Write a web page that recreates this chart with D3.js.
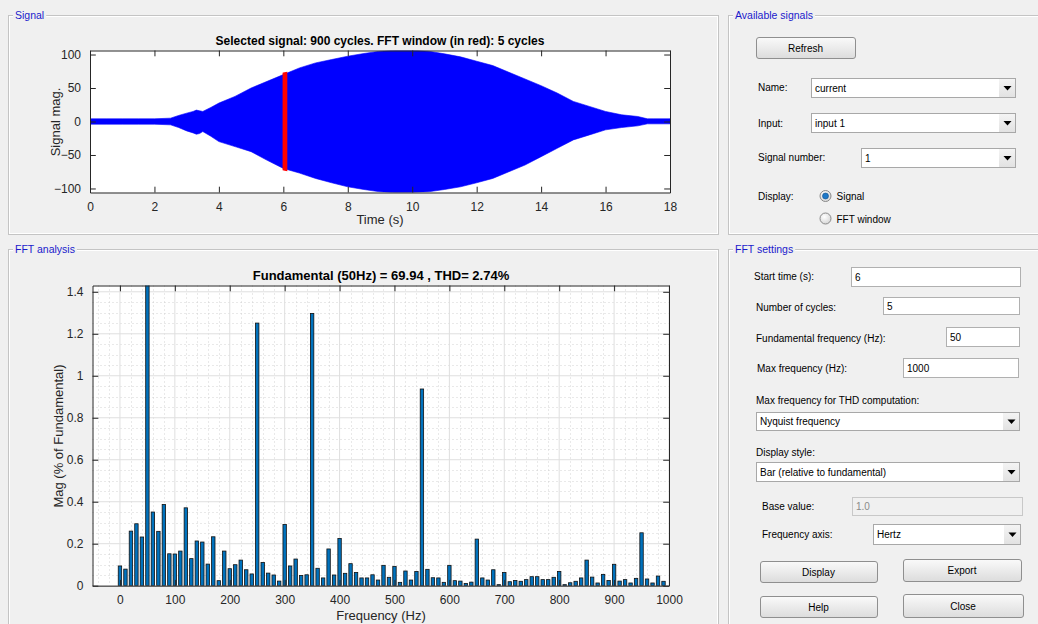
<!DOCTYPE html>
<html><head><meta charset="utf-8">
<script src="https://cdn.jsdelivr.net/npm/d3@7"></script>
<style>
body{margin:0;background:#f0f0f0;}
svg{display:block;font-family:"Liberation Sans",Arial,sans-serif;}
</style>
</head><body>
<svg id="c" width="1038" height="624"></svg>
<script>
// ---------------- DATA ----------------
// FFT harmonic spectrum (frequency in Hz, magnitude in % of fundamental)
const freqs = [0,10,20,30,40,50,60,70,80,90,100,110,120,130,140,150,160,170,180,190,
  200,210,220,230,240,250,260,270,280,290,300,310,320,330,340,350,360,370,380,390,
  400,410,420,430,440,450,460,470,480,490,500,510,520,530,540,550,560,570,580,590,
  600,610,620,630,640,650,660,670,680,690,700,710,720,730,740,750,760,770,780,790,
  800,810,820,830,840,850,860,870,880,890,900,910,920,930,940,950,960,970,980,990];
const magnitudes = [0.094,0.079,0.260,0.295,0.232,100,0.351,0.259,0.387,0.152,
  0.151,0.165,0.371,0.129,0.213,0.208,0.103,0.233,0.024,0.165,
  0.081,0.100,0.122,0.076,0.056,1.251,0.111,0.060,0.051,0.022,
  0.292,0.094,0.127,0.049,0.052,1.297,0.083,0.037,0.175,0.051,
  0.225,0.059,0.105,0.063,0.037,0.037,0.052,0.027,0.097,0.040,
  0.092,0.016,0.070,0.027,0.068,0.937,0.078,0.038,0.037,0.016,
  0.097,0.024,0.022,0.011,0.017,0.222,0.037,0.027,0.076,0.005,
  0.063,0.019,0.025,0.021,0.029,0.043,0.043,0.029,0.029,0.040,
  0.068,0.005,0.014,0.021,0.037,0.122,0.041,0.013,0.054,0.025,
  0.102,0.022,0.029,0.013,0.035,0.252,0.032,0.013,0.046,0.021];
const fftXTicks = [0,100,200,300,400,500,600,700,800,900,1000];
const fftYTicks = [0,0.2,0.4,0.6,0.8,1,1.2,1.4];

// Signal envelope (time in s, upper / lower extent of the waveform)
const sigTime  = [0,0.01,0.05,0.5,1,1.5,2,2.5,2.75,3,3.2,3.3,3.4,3.5,3.75,4,4.5,5,5.5,6,6.5,7,7.5,8,8.5,9,9.5,10,10.5,11,11.5,12,12.5,13,13.5,14,14.5,15,15.5,16,16.5,17,17.3,17.5,18];
const sigUpper = [20,4.5,4,4,4,4,4,5,9,12.5,15,17,16,15,21,27.5,37.5,50,60,70,80,87.5,92.5,97.5,101.5,105,106.5,106.5,105,101,96.5,90,83.5,73.5,63.5,53.5,42.5,30,22.5,15,10,7.5,4,4,4];
const sigLower = [-70,-4.5,-4,-4,-4,-4,-4,-5,-9,-14,-17,-19,-18,-15,-22,-30,-37.5,-45,-58,-70,-77,-85,-91.5,-97.5,-101.5,-105,-106.5,-106,-105,-101.5,-97.5,-91.5,-85,-75,-65,-52.5,-40,-27.5,-20,-12.5,-9,-6.5,-3.5,-3.5,-3.5];
// FFT window (red) envelope
const winTime  = [6.0,6.1];
const winUpper = [72,73];
const winLower = [-72,-73];
const sigXTicks = [0,2,4,6,8,10,12,14,16,18];
const sigYTicks = [-100,-50,0,50,100];

// ---------------- DRAW ----------------
const svg = d3.select("#c");
const AX = "#262626";
const defs = svg.append("defs");
const bg = defs.append("linearGradient").attr("id","btn").attr("x1",0).attr("y1",0).attr("x2",0).attr("y2",1);
bg.append("stop").attr("offset","0%").attr("stop-color","#fafafa");
bg.append("stop").attr("offset","100%").attr("stop-color","#dcdcdc");
const ag = defs.append("linearGradient").attr("id","arr").attr("x1",0).attr("y1",0).attr("x2",0).attr("y2",1);
ag.append("stop").attr("offset","0%").attr("stop-color","#f4f4f4");
ag.append("stop").attr("offset","100%").attr("stop-color","#e2e2e2");
const rg = defs.append("radialGradient").attr("id","rad").attr("cx","40%").attr("cy","35%").attr("r","70%");
rg.append("stop").attr("offset","0%").attr("stop-color","#ffffff");
rg.append("stop").attr("offset","100%").attr("stop-color","#d4d4d4");

// panels
function panel(x,y,w,h,title){
  const g = svg.append("g");
  g.append("rect").attr("x",x+0.5).attr("y",y+0.5).attr("width",w).attr("height",h)
    .attr("fill","none").attr("stroke","#c4c4c4");
  g.append("rect").attr("x",x+1.5).attr("y",y+1.5).attr("width",w-2).attr("height",h-2)
    .attr("fill","none").attr("stroke","#ffffff");
  const t = g.append("text").attr("x",x+7).attr("y",y+4).attr("font-size","10.5px")
    .attr("fill","#1a1acc").text(title);
  const bb = t.node().getBBox();
  g.insert("rect","text").attr("x",bb.x-2).attr("y",y-2).attr("width",bb.width+4).attr("height",6).attr("fill","#f0f0f0");
}
panel(8,15,710,219,"Signal");
panel(8,249,710,400,"FFT analysis");
panel(728,15,320,219,"Available signals");
panel(728,249,320,400,"FFT settings");

// ---------- Signal plot ----------
const sx = d3.scaleLinear().domain([0,18]).range([90,670]);
const sy = d3.scaleLinear().domain([-106,106]).range([192.5,50.5]);
const sg = svg.append("g");
sg.append("rect").attr("x",90).attr("y",50.5).attr("width",580).attr("height",142).attr("fill","#fff");
defs.append("clipPath").attr("id","sclip").append("rect").attr("x",90).attr("y",50.5).attr("width",580).attr("height",142);
const env = sigTime.map((t,i)=>({t,u:sigUpper[i],l:sigLower[i]}));
const area = d3.area().x(d=>sx(d.t)).y0(d=>sy(d.l)).y1(d=>sy(d.u));
sg.append("path").datum(env).attr("d",area).attr("fill","#0000ff").attr("stroke","#0000ff").attr("stroke-width",0.6).attr("clip-path","url(#sclip)");
const wenv = winTime.map((t,i)=>({t,u:winUpper[i],l:winLower[i]}));
sg.append("path").datum(wenv).attr("d",area).attr("fill","#ff0000").attr("stroke","#ff0000").attr("stroke-width",1.5);
// axes
const tl = 5.8;
sg.append("g").attr("transform","translate(0,192.5)").call(d3.axisBottom(sx).tickValues(sigXTicks).tickSizeInner(-tl).tickSizeOuter(0).tickPadding(10));
sg.append("g").attr("transform","translate(0,50.5)").call(d3.axisTop(sx).tickValues(sigXTicks).tickSizeInner(-tl).tickSizeOuter(0).tickFormat(""));
sg.append("g").attr("transform","translate(90,0)").call(d3.axisLeft(sy).tickValues(sigYTicks).tickSizeInner(-tl).tickSizeOuter(0).tickPadding(9));
sg.append("g").attr("transform","translate(670,0)").call(d3.axisRight(sy).tickValues(sigYTicks).tickSizeInner(-tl).tickSizeOuter(0).tickFormat(""));
sg.append("text").attr("x",380).attr("y",45).attr("text-anchor","middle").attr("font-size","12px").attr("font-weight","bold").attr("fill","#000")
  .text("Selected signal: 900 cycles. FFT window (in red): 5 cycles");
sg.append("text").attr("x",380).attr("y",224).attr("text-anchor","middle").attr("font-size","13px").attr("fill",AX).text("Time (s)");
sg.append("text").attr("transform","translate(60,122) rotate(-90)").attr("text-anchor","middle").attr("font-size","13px").attr("fill",AX).text("Signal mag.");

// ---------- FFT plot ----------
const fx = d3.scaleLinear().domain([-50,1000]).range([92.5,669]);
const fy = d3.scaleLinear().domain([0,1.43]).range([585.7,285.5]);
const fg = svg.append("g");
fg.append("rect").attr("x",92.5).attr("y",285.5).attr("width",576.5).attr("height",300.2).attr("fill","#fff");
defs.append("clipPath").attr("id","fclip").append("rect").attr("x",92.5).attr("y",285.5).attr("width",576.5).attr("height",300.2);
// minor grid
const minorX = d3.range(-40,1000,20).filter(v=>v%100!==0);
const minorY = d3.range(0.05,1.43,0.05).filter(v=>Math.abs(v/0.2-Math.round(v/0.2))>0.01);
fg.append("g").selectAll("line").data(minorX).join("line")
  .attr("x1",d=>Math.round(fx(d))+0.5).attr("x2",d=>Math.round(fx(d))+0.5).attr("y1",285.5).attr("y2",585.7)
  .attr("stroke","#c8c8c8").attr("stroke-width",0.8).attr("stroke-dasharray","1,3");
fg.append("g").selectAll("line").data(minorY).join("line")
  .attr("y1",d=>Math.round(fy(d))+0.5).attr("y2",d=>Math.round(fy(d))+0.5).attr("x1",92.5).attr("x2",669)
  .attr("stroke","#c8c8c8").attr("stroke-width",0.8).attr("stroke-dasharray","1,3");
// major grid
fg.append("g").selectAll("line").data(fftXTicks).join("line")
  .attr("x1",d=>fx(d)).attr("x2",d=>fx(d)).attr("y1",285.5).attr("y2",585.7).attr("stroke","#dfdfdf");
fg.append("g").selectAll("line").data(fftYTicks).join("line")
  .attr("y1",d=>fy(d)).attr("y2",d=>fy(d)).attr("x1",92.5).attr("x2",669).attr("stroke","#dfdfdf");
// bars
const bw = fx(6.2)-fx(0);
fg.append("g").attr("clip-path","url(#fclip)").selectAll("rect").data(freqs.map((f,i)=>({f,m:magnitudes[i]}))).join("rect")
  .attr("x",d=>fx(d.f)-bw/2).attr("width",bw)
  .attr("y",d=>fy(d.m)).attr("height",d=>fy(0)-fy(d.m))
  .attr("fill","#0072bd").attr("stroke","#111").attr("stroke-width",0.8);
// axes
fg.append("g").attr("transform","translate(0,585.7)").call(d3.axisBottom(fx).tickValues(fftXTicks).tickSizeInner(-tl).tickSizeOuter(0).tickPadding(10).tickFormat(d3.format("d")));
fg.append("g").attr("transform","translate(0,285.5)").call(d3.axisTop(fx).tickValues(fftXTicks).tickSizeInner(-tl).tickSizeOuter(0).tickFormat(""));
fg.append("g").attr("transform","translate(92.5,0)").call(d3.axisLeft(fy).tickValues(fftYTicks).tickSizeInner(-tl).tickSizeOuter(0).tickPadding(9).tickFormat(d3.format("~g")));
fg.append("g").attr("transform","translate(669,0)").call(d3.axisRight(fy).tickValues(fftYTicks).tickSizeInner(-tl).tickSizeOuter(0).tickFormat(""));
fg.append("text").attr("x",381).attr("y",280).attr("text-anchor","middle").attr("font-size","13px").attr("font-weight","bold").attr("fill","#000")
  .text("Fundamental (50Hz) = 69.94 , THD= 2.74%");
fg.append("text").attr("x",381).attr("y",620).attr("text-anchor","middle").attr("font-size","13px").attr("fill",AX).text("Frequency (Hz)");
fg.append("text").attr("transform","translate(63,436) rotate(-90)").attr("text-anchor","middle").attr("font-size","13px").attr("fill",AX).text("Mag (% of Fundamental)");

svg.selectAll(".domain").attr("stroke",AX).attr("stroke-width",1);
svg.selectAll(".tick line").attr("stroke",AX).attr("stroke-width",1);
svg.selectAll(".tick text").attr("fill",AX).attr("font-size","12px").attr("font-family","Liberation Sans, Arial, sans-serif");

// ---------- UI controls ----------
const ui = svg.append("g").attr("font-size","10px").attr("fill","#000");
function label(x,y,t,c){ ui.append("text").attr("x",x).attr("y",y).attr("fill",c||"#000").text(t); }
function button(x,y,w,h,t){
  ui.append("rect").attr("x",x+0.5).attr("y",y+0.5).attr("width",w).attr("height",h).attr("rx",2.5)
    .attr("fill","url(#btn)").attr("stroke","#8f8f8f");
  ui.append("text").attr("x",x+w/2).attr("y",y+h/2+4).attr("text-anchor","middle").text(t);
}
function textbox(x,y,w,h,t,dis){
  ui.append("rect").attr("x",x+0.5).attr("y",y+0.5).attr("width",w).attr("height",h)
    .attr("fill",dis?"#f0f0f0":"#fff").attr("stroke",dis?"#c8c8c8":"#b0b0b0");
  ui.append("text").attr("x",x+4).attr("y",y+h/2+4).attr("fill",dis?"#8a8a8a":"#000").text(t);
}
function dropdown(x,y,w,h,t){
  ui.append("rect").attr("x",x+0.5).attr("y",y+0.5).attr("width",w).attr("height",h).attr("fill","#fff").attr("stroke","#a8a8a8");
  ui.append("rect").attr("x",x+w-16).attr("y",y+1).attr("width",16).attr("height",h-1).attr("fill","url(#arr)");
  const cx=x+w-7.5, cy=y+h/2+0.5;
  ui.append("path").attr("d",`M${cx-4},${cy-2}L${cx+4},${cy-2}L${cx},${cy+2.5}Z`).attr("fill","#000");
  ui.append("text").attr("x",x+4).attr("y",y+h/2+4).text(t);
}
function radio(cx,cy,sel,t){
  ui.append("circle").attr("cx",cx).attr("cy",cy).attr("r",5.5).attr("fill","url(#rad)").attr("stroke","#8a8a8a");
  if(sel) ui.append("circle").attr("cx",cx).attr("cy",cy).attr("r",3).attr("fill","#1e78c8").attr("stroke","#0d4d8a").attr("stroke-width",0.6);
  ui.append("text").attr("x",cx+11).attr("y",cy+4).text(t);
}
// Available signals
button(756,37,99,21,"Refresh");
label(758,91,"Name:"); dropdown(811,78,204,19,"current");
label(758,127,"Input:"); dropdown(811,113,204,19,"input 1");
label(758,161,"Signal number:"); dropdown(861,148,154,19,"1");
label(758,200,"Display:");
radio(825.5,196,true,"Signal");
radio(825.5,218.5,false,"FFT window");
// FFT settings
label(754,280,"Start time (s):"); textbox(851,267,169,19,"6");
label(756,311,"Number of cycles:"); textbox(883,297,136,17,"5");
label(756,342,"Fundamental frequency (Hz):"); textbox(946,327,73,19,"50");
label(757,372,"Max frequency (Hz):"); textbox(903,358,115,19,"1000");
label(756,404,"Max frequency for THD computation:");
dropdown(756,412,263,18,"Nyquist frequency");
label(756,456,"Display style:");
dropdown(756,462,263,19,"Bar (relative to fundamental)");
label(762,510,"Base value:"); textbox(852,497,170,18,"1.0",true);
label(762,538,"Frequency axis:"); dropdown(873,524,147,20,"Hertz");
button(760,561,117,21,"Display");
button(903,559,118,22,"Export");
button(760,596,117,21,"Help");
button(903,594,120,23,"Close");
</script>
</body></html>
